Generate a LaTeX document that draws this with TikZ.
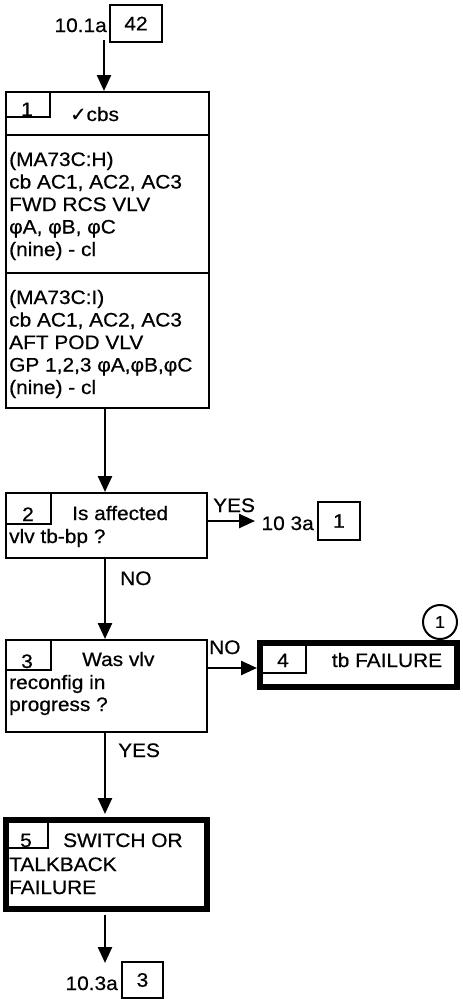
\documentclass[tikz,border=0pt]{standalone}
\usepackage{fontspec}
\setmainfont[FakeStretch=1.07, FakeBold=0.6]{Liberation Sans}
\newfontfamily\symfont[FakeBold=0.6]{DejaVu Sans}
\usetikzlibrary{arrows.meta}
\begin{document}
\begin{tikzpicture}[x=1pt,y=-1pt,
  txt/.style={anchor=base west, inner sep=0pt, font=\fontsize{19.5}{22.5}\selectfont},
  num/.style={txt, anchor=base},
  box/.style={draw, line width=2pt, inner sep=0pt},
  heavybox/.style={draw, line width=6pt, inner sep=0pt},
  refbox/.style={draw, line width=2pt, inner sep=0pt, font=\fontsize{19.5}{22.5}\selectfont},
  thin/.style={line width=2pt},
  arr/.style={line width=2.5pt, -{Triangle[length=16pt,width=14pt]}}
]
\path[use as bounding box, fill=white] (0,0) rectangle (463,999);
\coordinate (spine) at (105,0);

% top reference
\node[txt, anchor=base east] (ref0t) at (107,32) {10.1a};
\node[refbox, minimum width=52pt, minimum height=37pt] (ref0) at (136,23.5) {42};

% box 1
\node[box, minimum width=203pt, minimum height=316pt] (b1) at (107.5,250) {};
\draw[thin] (50,92) -- (50,117) -- (6,117);
\draw[thin] (6,135) -- (209,135);
\draw[thin] (6,273) -- (209,273);
\node[num] (n1) at (27,116) {1};
\node[txt] (t1) at (70,121) {{\symfont ✓}cbs};
\foreach \t [count=\k] in {{(MA73C:H)},{cb AC1, AC2, AC3},{FWD RCS VLV},{φA, φB, φC},{(nine) - cl}}
  \node[txt] (s1l\k) at (9,{166+22.5*(\k-1)}) {\t};
\foreach \t [count=\k] in {{(MA73C:I)},{cb AC1, AC2, AC3},{AFT POD VLV},{GP 1,2,3 φA,φB,φC},{(nine) - cl}}
  \node[txt] (s2l\k) at (9,{304+22.5*(\k-1)}) {\t};

% box 2
\node[box, minimum width=201pt, minimum height=65pt] (b2) at (106.5,525.5) {};
\draw[thin] (51,493) -- (51,524) -- (6,524);
\node[num] (n2) at (28,521) {2};
\node[txt] (t2a) at (72,520) {Is affected};
\node[txt] (t2b) at (9,543) {vlv tb-bp ?};
\node[txt] (yes1) at (213,512) {YES};
\node[txt, anchor=base east] (ref1t) at (314,530) {10 3a};
\node[refbox, minimum width=42pt, minimum height=38pt] (ref1) at (339,521) {1};

% box 3
\node[box, minimum width=201pt, minimum height=92pt] (b3) at (106.5,686) {};
\draw[thin] (51,640) -- (51,670) -- (6,670);
\node[num] (n3) at (27,668) {3};
\node[txt] (t3a) at (82,666) {Was vlv};
\node[txt] (t3b) at (9,689) {reconfig in};
\node[txt] (t3c) at (9,711) {progress ?};
\node[txt] (no1) at (120,585) {NO};
\node[txt] (no2) at (209,654) {NO};

% box 4
\node[heavybox, minimum width=197pt, minimum height=44pt] (b4) at (358.5,665) {};
\draw[thin] (306,643) -- (306,673) -- (260,673);
\node[num] (n4) at (283,667) {4};
\node[num] (t4) at (387,667) {tb FAILURE};
\node[draw, circle, line width=2pt, minimum size=34pt, inner sep=0pt, font=\fontsize{17}{20}\selectfont] (c1) at (440,622) {1};

% box 5
\node[heavybox, minimum width=201pt, minimum height=89pt] (b5) at (106.5,864.5) {};
\draw[thin] (48,820) -- (48,848) -- (6,848);
\node[num] (n5) at (26,847) {5};
\node[txt] (t5a) at (63,847) {SWITCH OR};
\node[txt] (t5b) at (9,871) {TALKBACK};
\node[txt] (t5c) at (9,894) {FAILURE};
\node[txt] (yes2) at (118,757) {YES};

% bottom reference
\node[txt, anchor=base east] (ref2t) at (118,990) {10.3a};
\node[refbox, minimum width=41pt, minimum height=36pt] (ref2) at (142.5,980) {3};

% connectors
\coordinate (a0s) at (104,40);
\draw[arr] (a0s) -- (a0s |- b1.north);
\draw[arr] (b1.south -| spine) -- (b2.north -| spine);
\draw[arr] (b2.east |- ref1.center) -- ++(47,0) coordinate (a3e);
\draw[arr] (b2.south -| spine) -- (b3.north -| spine);
\draw[arr] (b3.east |- 0,668) -- (b4.west |- 0,668);
\draw[arr, shorten >=3pt] (b3.south -| spine) -- (b5.north -| spine);
\draw[arr, shorten <=3pt] (b5.south -| spine) -- (105,963) coordinate (a6e);
\end{tikzpicture}
\end{document}
